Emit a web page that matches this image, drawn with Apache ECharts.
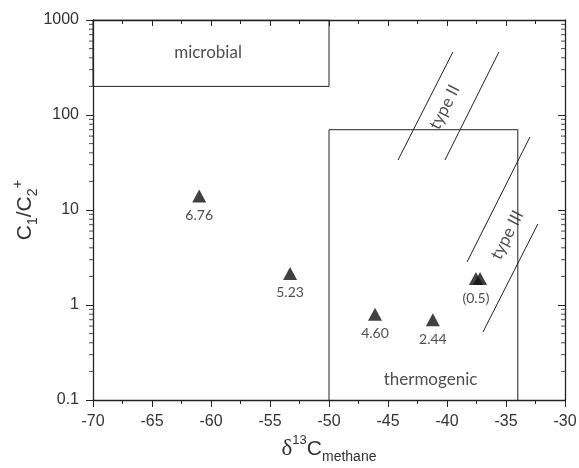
<!DOCTYPE html>
<html>
<head>
<meta charset="UTF-8">
<title>C1/C2+ vs d13C methane</title>
<script src="https://cdn.jsdelivr.net/npm/echarts@6/dist/echarts.min.js"></script>
<style>
  html, body { margin: 0; padding: 0; background: #fff; }
  #main { width: 579px; height: 468px; }
</style>
</head>
<body>
<div id="main"></div>
<script>
// samples: d13C methane (x) and C1/C2+ (y), label under each triangle
var sampleX = [-61, -53.3, -46.1, -41.2, -37.55, -37.2];
var sampleY = [14, 2.15, 0.8, 0.7, 1.9, 1.9];
var sampleLabels = ['6.76', '5.23', '4.60', '2.44', '(0.5)', ''];

// genetic fields
var microbialBox = [[-70, 1000], [-70, 200], [-50, 200], [-50, 1000], [-70, 1000]];
var thermoBox = [[-50, 0.1], [-50, 70], [-34, 70], [-34, 0.1]];
var typeIIa = [[-44.15, 33.6], [-39.5, 460]];
var typeIIb = [[-40.17, 33.6], [-35.6, 460]];
var typeIIIa = [[-38.3, 2.84], [-32.97, 58.7]];
var typeIIIb = [[-36.95, 0.52], [-32.3, 7.13]];

// field names and where they sit
var fieldNames = ['microbial', 'thermogenic', 'type II', 'type III'];
var fieldAt = [[-60.25, 450], [-41.4, 0.166], [-40.2, 121], [-34.9, 5.45]];
var fieldRotate = [0, 0, 63, 63];

// log minor ticks
var yMinorTicks = [0.2, 0.3, 0.4, 0.5, 0.6, 0.7, 0.8, 0.9,
  2, 3, 4, 5, 6, 7, 8, 9,
  20, 30, 40, 50, 60, 70, 80, 90,
  200, 300, 400, 500, 600, 700, 800, 900];

var myChart = echarts.init(document.getElementById('main'));

var ink = '#222';
var axisFont = { fontFamily: 'Liberation Sans', fontSize: 16, color: '#333' };
var noteFont = 'Lato';

function lineSeries(pts) {
  return {
    type: 'line',
    data: pts,
    symbol: 'none',
    silent: true,
    lineStyle: { color: ink, width: 1 },
    z: 1
  };
}

// short tick marks hanging left of a log axis at x
function minorTickSeries(x) {
  return {
    type: 'scatter',
    data: yMinorTicks.map(function (v) { return [x, v]; }),
    symbol: 'rect',
    symbolSize: [4, 1],
    symbolOffset: [-2, 0],
    itemStyle: { color: ink },
    silent: true,
    clip: false,
    z: 5
  };
}

var points = sampleX.map(function (x, i) { return [x, sampleY[i]]; });

var notes = fieldNames.map(function (n, i) {
  return { value: fieldAt[i], name: n, label: { rotate: fieldRotate[i] } };
});

var option = {
  backgroundColor: '#fff',
  animation: false,
  grid: { left: 93, right: 14, top: 20, bottom: 68, containLabel: false, outerBoundsMode: 'none' },
  xAxis: [{
    type: 'value',
    min: -70, max: -30, interval: 5,
    position: 'bottom',
    axisLine: { lineStyle: { color: ink, width: 1.3 } },
    axisTick: { length: 7, lineStyle: { color: ink } },
    minorTick: { show: true, splitNumber: 2, length: 4, lineStyle: { color: ink } },
    splitLine: { show: false },
    axisLabel: Object.assign({ margin: 14 }, axisFont),
    name: '{d|δ}{sup|13}{c|C}{sub|methane}',
    nameLocation: 'middle',
    nameGap: 34,
    nameMoveOverlap: false,
    nameTextStyle: {
      color: '#333',
      rich: {
        d: { fontFamily: 'Liberation Serif', fontSize: 23, lineHeight: 30, color: '#333' },
        sup: { fontFamily: 'Liberation Sans', fontSize: 13, lineHeight: 12, verticalAlign: 'top', color: '#333' },
        c: { fontFamily: 'Liberation Sans', fontSize: 21, lineHeight: 30, color: '#333' },
        sub: { fontFamily: 'Liberation Sans', fontSize: 14, lineHeight: 12, verticalAlign: 'bottom', color: '#333' }
      }
    }
  }, {
    type: 'value',
    min: -70, max: -30, interval: 5,
    position: 'top',
    axisLine: { lineStyle: { color: ink, width: 1.3 } },
    axisTick: { inside: true, length: 6, lineStyle: { color: ink } },
    minorTick: { show: true, splitNumber: 2, length: 4, lineStyle: { color: ink } },
    splitLine: { show: false },
    axisLabel: { show: false }
  }],
  yAxis: [{
    type: 'log',
    logBase: 10,
    min: 0.1, max: 1000,
    position: 'left',
    axisLine: { show: true, lineStyle: { color: ink, width: 1.3 } },
    axisTick: { show: true, length: 7, lineStyle: { color: ink } },
    splitLine: { show: false },
    axisLabel: Object.assign({
      margin: 14,
      formatter: function (v) { return String(v); }
    }, axisFont),
    name: '{c|C}{sub|1}{c|/C}{sub|2}{sup|+}',
    nameLocation: 'middle',
    nameRotate: 90,
    nameGap: 53,
    nameMoveOverlap: false,
    nameTextStyle: {
      color: '#333',
      rich: {
        c: { fontFamily: 'Liberation Sans', fontSize: 21, lineHeight: 30, color: '#333' },
        sub: { fontFamily: 'Liberation Sans', fontSize: 14, lineHeight: 12, verticalAlign: 'bottom', color: '#333' },
        sup: { fontFamily: 'Liberation Sans', fontSize: 15, lineHeight: 14, verticalAlign: 'top', color: '#333' }
      }
    }
  }, {
    type: 'log',
    logBase: 10,
    min: 0.1, max: 1000,
    position: 'right',
    axisLine: { show: true, lineStyle: { color: ink, width: 1.3 } },
    axisTick: { show: true, inside: true, length: 7, lineStyle: { color: ink } },
    splitLine: { show: false },
    axisLabel: { show: false }
  }],
  series: [
    lineSeries(microbialBox),
    lineSeries(thermoBox),
    lineSeries(typeIIa),
    lineSeries(typeIIb),
    lineSeries(typeIIIa),
    lineSeries(typeIIIb),
    minorTickSeries(-70),
    minorTickSeries(-30),
    {
      type: 'scatter',
      data: notes,
      symbolSize: 0,
      silent: true,
      label: {
        show: true,
        position: 'inside',
        formatter: '{b}',
        fontFamily: noteFont,
        fontSize: 17,
        color: '#222'
      },
      z: 3
    },
    {
      type: 'scatter',
      data: points,
      symbol: 'triangle',
      symbolSize: [14, 13],
      itemStyle: { color: '#111' },
      label: {
        show: true,
        position: 'bottom',
        distance: 6,
        fontFamily: noteFont,
        fontSize: 14,
        color: '#222',
        formatter: function (p) { return sampleLabels[p.dataIndex]; }
      },
      z: 4
    }
  ]
};

myChart.setOption(option);
</script>
</body>
</html>
